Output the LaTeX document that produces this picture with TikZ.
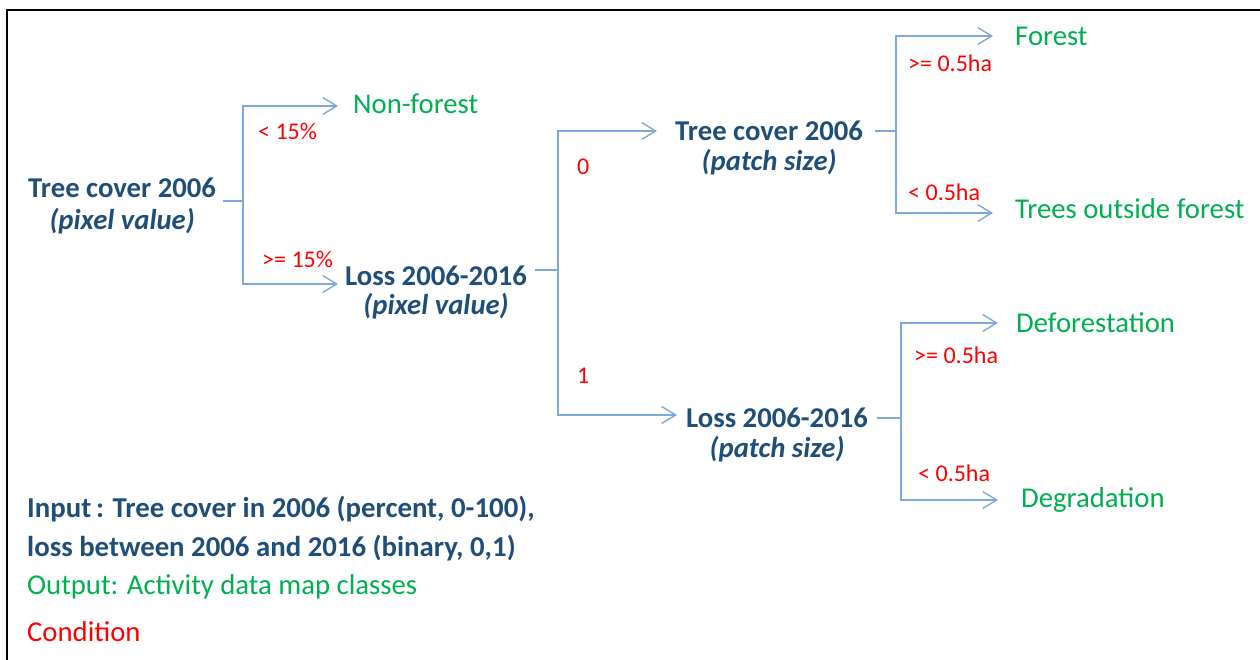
\documentclass[tikz,border=0pt]{standalone}
\usepackage{fontspec}
\setmainfont{Carlito}
\usetikzlibrary{arrows.meta,calc}
\definecolor{tblue}{HTML}{1F4E79}
\definecolor{tgreen}{HTML}{00B050}
\definecolor{tred}{HTML}{FF0000}
\definecolor{lblue}{HTML}{7FA9DC}
\begin{document}
\begin{tikzpicture}[x=1pt,y=-1pt,
  title/.style={text=tblue,font=\fontsize{28.7}{34}\selectfont\bfseries,inner sep=0pt,anchor=west},
  sub/.style={text=tblue,font=\fontsize{28.7}{34}\selectfont\bfseries\itshape,inner sep=0pt},
  outc/.style={text=tgreen,font=\fontsize{28.7}{34}\selectfont,inner sep=0pt,anchor=west},
  cond/.style={text=tred,font=\fontsize{24}{29}\selectfont,inner sep=0pt,anchor=west},
  legblue/.style={text=tblue,font=\fontsize{28.8}{34}\selectfont\bfseries,inner sep=0pt,anchor=west},
  leggreen/.style={text=tgreen,font=\fontsize{28.7}{34}\selectfont,inner sep=0pt,anchor=west},
  legred/.style={text=tred,font=\fontsize{28.7}{34}\selectfont,inner sep=0pt,anchor=west},
  conn/.style={draw=lblue,line width=1.4pt},
  arr/.style={conn,-{Straight Barb[length=14pt,width=17pt]}}]
\useasboundingbox (0,0) rectangle (1260,660);
\draw[line width=2.4pt] (7,660) -- (7,10) -- (1260,10);

% decision nodes
\node[title] (root) at (28,188) {Tree cover 2006};
\node[sub] (rootsub) at ($(root.center)+(0,33)$) {(pixel value)};
\node[title] (loss1) at (345,276) {Loss 2006-2016};
\node[sub] (loss1sub) at ($(loss1.center)+(0,30)$) {(pixel value)};
\node[title] (tc2) at (675,131) {Tree cover 2006};
\node[sub] (tc2sub) at ($(tc2.center)+(0,31)$) {(patch size)};
\node[title] (loss2) at (686,418) {Loss 2006-2016};
\node[sub] (loss2sub) at ($(loss2.center)+(0,31)$) {(patch size)};

% outcomes
\node[outc] (nf) at (353,104) {Non-forest};
\node[outc] (forest) at (1015,36) {Forest};
\node[outc] (tof) at (1015,209) {Trees outside forest};
\node[outc] (defo) at (1016,323) {Deforestation};
\node[outc] (degr) at (1021,500) {Degradation};

% conditions
\node[cond] (c1) at (258,131) {< 15\%};
\node[cond] (c2) at (262,259) {>= 15\%};
\node[cond] (c3) at (577,167) {0};
\node[cond] (c4) at (577,376) {1};
\node[cond] (c5) at (908,63) {>= 0.5ha};
\node[cond] (c6) at (908,192) {< 0.5ha};
\node[cond] (c7) at (914,355) {>= 0.5ha};
\node[cond] (c8) at (918,473) {< 0.5ha};

% branch points
\coordinate (b1) at (243,201);
\coordinate (b2) at (558,270);
\coordinate (b3) at (896,131);
\coordinate (b4) at (901,418);

% connectors
\draw[conn] (b1 -| root.east) ++(7,0) -- (b1);
\draw[arr,shorten >=15pt] (b1) |- ([yshift=-2pt]nf.west);
\draw[arr,shorten >=7pt] (b1) |- ([yshift=-8pt]loss1.west);

\draw[conn] (b2 -| loss1.east) ++(8,0) -- (b2);
\draw[arr,shorten >=18pt] (b2) |- (tc2.west);
\draw[arr,shorten >=9pt] (b2) |- ([yshift=3pt]loss2.west);

\draw[conn] (b3 -| tc2.east) ++(12,0) -- (b3);
\draw[arr,shorten >=22pt] (b3) |- (forest.west);
\draw[arr,shorten >=22pt] (b3) |- ([yshift=-4pt]tof.west);

\draw[conn] (b4 -| loss2.east) ++(9,0) -- (b4);
\draw[arr,shorten >=18pt] (b4) |- (defo.west);
\draw[arr,shorten >=23pt] (b4) |- (degr.west);

% legend
\node[legblue] (in1) at (27,509) {Input\,: Tree cover in 2006 (percent, 0-100),};
\node[legblue] (in2) at (27,548) {loss between 2006 and 2016 (binary, 0,1)};
\node[leggreen] (out) at (27,587) {Output: Activity data map classes};
\node[legred] (cnd) at (27,632) {Condition};
\end{tikzpicture}
\end{document}
